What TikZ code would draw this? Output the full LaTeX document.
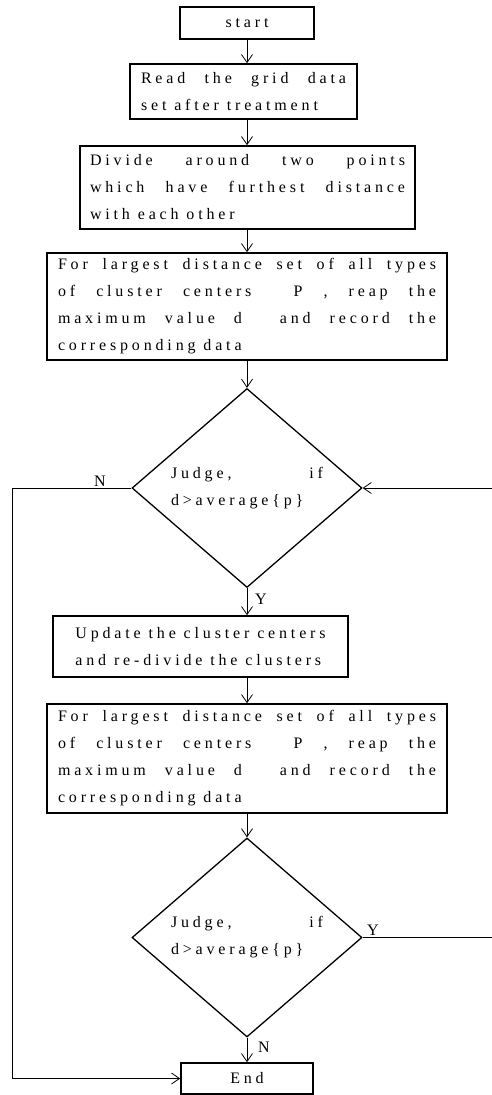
\documentclass[tikz,border=0pt]{standalone}
\usepackage{fontspec}
\setmainfont{Liberation Serif}
\newfontfamily\spc[LetterSpace=24]{Liberation Serif}
\usetikzlibrary{shapes.geometric,arrows.meta}
\newcommand{\jl}[2]{\makebox[#1][s]{#2}}
\begin{document}
\begin{tikzpicture}[x=1pt,y=-1pt,
  box/.style={draw,line width=1.6pt,inner sep=0pt,font=\fontsize{16}{27}\spc,align=left},
  dec/.style={draw,shape=diamond,line width=1.3pt,inner sep=0pt,minimum width=230pt,minimum height=199pt,font=\fontsize{16}{27}\spc,align=left},
  conn/.style={line width=0.8pt,-{Straight Barb[length=8pt,width=11pt,line width=0.8pt]}},
  lbl/.style={font=\fontsize{16}{16}\selectfont,inner sep=0pt}
]
\useasboundingbox (0,0) rectangle (491,1095);
\node[box,minimum width=134pt,minimum height=32pt] (s) at (247,23) {start};
\node[box,minimum width=227pt,minimum height=55pt] (b2) at (243.5,91.5)
  {\jl{205pt}{Read the grid data}\\set after treatment};
\node[box,minimum width=335pt,minimum height=83pt] (b3) at (247.5,187.5)
  {\jl{315pt}{Divide around two points}\\\jl{315pt}{which have furthest distance}\\with each other};
\node[box,minimum width=400pt,minimum height=107pt] (b4) at (247,306.5)
  {\jl{378pt}{For largest distance set of all types}\\\jl{378pt}{of cluster centers \ P , reap the}\\\jl{378pt}{maximum value d \ and record the}\\corresponding data};
\node[dec] (d1) at (247,488) {\jl{152pt}{Judge, if}\\d>average\{p\}};
\node[box,minimum width=295pt,minimum height=61pt] (b5) at (200.5,646.5)
  {Update the cluster centers\\and re-divide the clusters};
\node[box,minimum width=400pt,minimum height=109pt] (b6) at (247,758.5)
  {\jl{378pt}{For largest distance set of all types}\\\jl{378pt}{of cluster centers \ P , reap the}\\\jl{378pt}{maximum value d \ and record the}\\corresponding data};
\node[dec] (d2) at (247,937.5) {\jl{152pt}{Judge, if}\\d>average\{p\}};
\node[box,minimum width=132pt,minimum height=31pt] (e) at (247,1078.5) {End};
\draw[conn] (s.south) -- (s.south |- b2.north);
\draw[conn] (s.south |- b2.south) -- (s.south |- b3.north);
\draw[conn] (s.south |- b3.south) -- (s.south |- b4.north);
\draw[conn] (s.south |- b4.south) -- (d1.north);
\draw[conn] (d1.south) -- (d1.south |- b5.north);
\draw[conn] (d1.south |- b5.south) -- (d1.south |- b6.north);
\draw[conn] (d1.south |- b6.south) -- (d2.north);
\draw[conn] (d2.south) -- (e.north);
\coordinate (L) at (12,488);
\draw[conn] (d1.west) -- (L) |- (e.west);
\coordinate (R2) at (492.5,937.5);
\coordinate (R1) at (492.5,488);
\draw[conn] (d2.east) -- (R2) -- (R1) -- (d1.east);
\node[lbl] (n1) at (100,481) {N};
\node[lbl] (y1) at (261,599) {Y};
\node[lbl] (y2) at (373,930) {Y};
\node[lbl] (n2) at (264,1047) {N};
\end{tikzpicture}
\end{document}
